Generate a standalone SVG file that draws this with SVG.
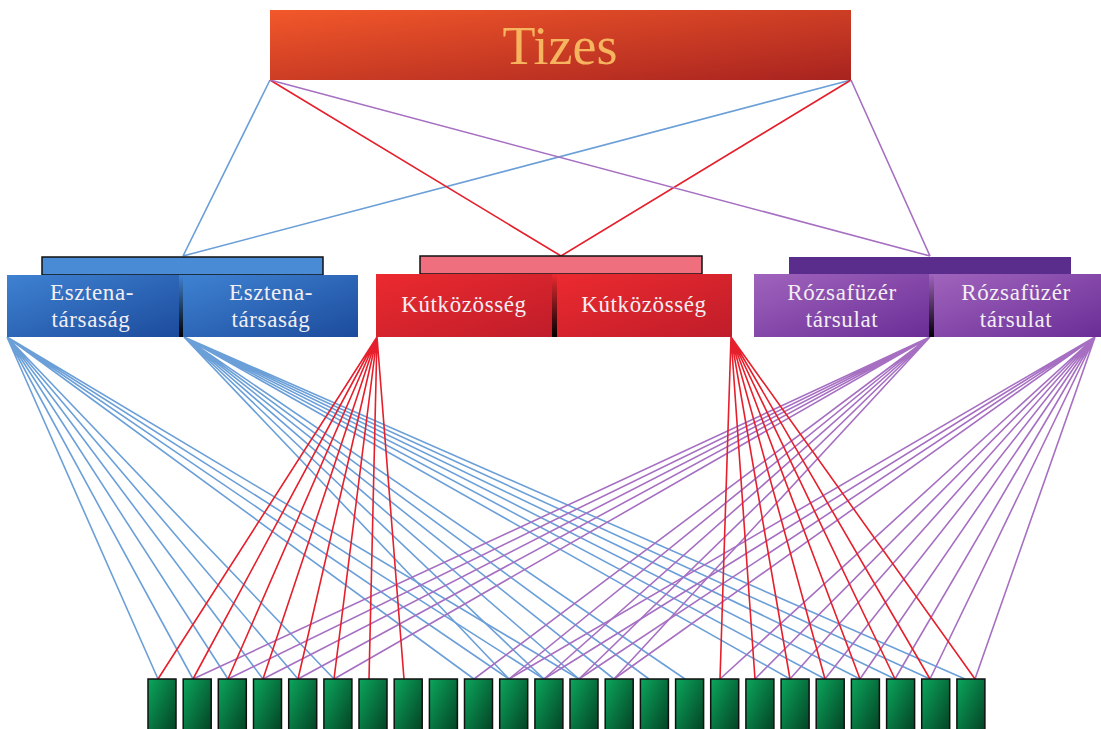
<svg xmlns="http://www.w3.org/2000/svg" width="1101" height="729" viewBox="0 0 1101 729">
<defs>
<linearGradient id="gTop" x1="0" y1="0" x2="1" y2="1"><stop offset="0" stop-color="#f2582a"/><stop offset="1" stop-color="#a8231f"/></linearGradient>
<linearGradient id="gBlue" x1="0" y1="0" x2="1" y2="1"><stop offset="0" stop-color="#3f82d2"/><stop offset="1" stop-color="#1c4b9c"/></linearGradient>
<linearGradient id="gRed" x1="0" y1="0" x2="1" y2="1"><stop offset="0" stop-color="#ec2a2f"/><stop offset="1" stop-color="#bf1d2a"/></linearGradient>
<linearGradient id="gPur" x1="0" y1="0" x2="1" y2="1"><stop offset="0" stop-color="#a064bd"/><stop offset="1" stop-color="#6a2d96"/></linearGradient>
<linearGradient id="gGreen" x1="0" y1="0" x2="1" y2="1"><stop offset="0" stop-color="#0ba65c"/><stop offset="1" stop-color="#033b20"/></linearGradient>
<linearGradient id="gDivB" x1="0" y1="0" x2="0" y2="1"><stop offset="0" stop-color="#3f82d2"/><stop offset="1" stop-color="#000"/></linearGradient>
<linearGradient id="gDivR" x1="0" y1="0" x2="0" y2="1"><stop offset="0" stop-color="#ec2a2f"/><stop offset="1" stop-color="#000"/></linearGradient>
<linearGradient id="gDivP" x1="0" y1="0" x2="0" y2="1"><stop offset="0" stop-color="#a064bd"/><stop offset="1" stop-color="#000"/></linearGradient>
</defs>
<style>
.b{stroke:#6b9fd8;stroke-width:1.6;fill:none}
.r{stroke:#e51f2b;stroke-width:1.6;fill:none}
.p{stroke:#a66fc2;stroke-width:1.6;fill:none}
.gt{font-family:"Liberation Serif",serif;font-size:23px;letter-spacing:0.6px;fill:#f2eef2;text-anchor:middle}
.gr{fill:url(#gGreen);stroke:#101010;stroke-width:1.5}
</style>
<rect width="1101" height="729" fill="#fff"/>
<g id="connectors">
<path class="b" d="M270,80L183,256M851,80L183,256"/>
<path class="r" d="M270,80L561,256M851,80L561,256"/>
<path class="p" d="M270,80L930,256M851,80L930,256"/>
<path class="b" d="M7,337L158,679M7,337L193,679M7,337L228,679M7,337L263,679M7,337L298,679M7,337L334,679M7,337L474,679M7,337L509,679M7,337L544,679M7,337L579,679"/>
<path class="b" d="M184,337L509,679M184,337L544,679M184,337L579,679M184,337L614,679M184,337L649,679M184,337L685,679M184,337L790,679M184,337L825,679M184,337L860,679M184,337L895,679M184,337L930,679M184,337L965,679"/>
<path class="p" d="M930,337L193,679M930,337L228,679M930,337L263,679M930,337L298,679M930,337L334,679M930,337L474,679M930,337L509,679M930,337L544,679M930,337L579,679M930,337L614,679"/>
<path class="p" d="M1095,337L509,679M1095,337L544,679M1095,337L579,679M1095,337L614,679M1095,337L720,679M1095,337L755,679M1095,337L790,679M1095,337L825,679M1095,337L860,679M1095,337L895,679M1095,337L930,679M1095,337L975,679"/>
<path class="r" d="M377,337L158,679M377,337L193,679M377,337L228,679M377,337L263,679M377,337L298,679M377,337L334,679M377,337L369,679M377,337L404,679"/>
<path class="r" d="M731,337L720,679M731,337L755,679M731,337L790,679M731,337L825,679M731,337L860,679M731,337L895,679M731,337L930,679M731,337L975,679"/>
</g>
<g id="tizes">
<rect x="270" y="10" width="581" height="70" fill="url(#gTop)"/>
<text x="560" y="64" font-family="Liberation Serif, serif" font-size="54" fill="#f7b45e" text-anchor="middle">Tizes</text>
</g>
<g id="blue-group">
<rect x="42" y="257" width="281" height="18" fill="#4a8bd6" stroke="#111" stroke-width="1.5"/>
<rect x="7" y="275" width="172" height="62" fill="url(#gBlue)"/>
<rect x="183" y="275" width="175" height="62" fill="url(#gBlue)"/>
<rect x="179" y="275" width="4" height="62" fill="url(#gDivB)"/>
</g>
<g id="esztena-1"><text class="gt"><tspan x="92" y="300">Esztena-</tspan><tspan x="91" y="327">társaság</tspan></text></g>
<g id="esztena-2"><text class="gt"><tspan x="271" y="300">Esztena-</tspan><tspan x="271" y="327">társaság</tspan></text></g>
<g id="red-group">
<rect x="420" y="256" width="282" height="18" fill="#ef6f7e" stroke="#111" stroke-width="1.5"/>
<rect x="376" y="274" width="176" height="63" fill="url(#gRed)"/>
<rect x="557" y="274" width="175" height="63" fill="url(#gRed)"/>
<rect x="552" y="274" width="5" height="63" fill="url(#gDivR)"/>
</g>
<g id="kut-1"><text class="gt" x="464" y="312">Kútközösség</text></g>
<g id="kut-2"><text class="gt" x="644" y="312">Kútközösség</text></g>
<g id="purple-group">
<rect x="789" y="257" width="282" height="17" fill="#5a2c8c"/>
<rect x="754" y="274" width="175" height="63" fill="url(#gPur)"/>
<rect x="934" y="274" width="167" height="63" fill="url(#gPur)"/>
<rect x="929" y="274" width="5" height="63" fill="url(#gDivP)"/>
</g>
<g id="rozsa-1"><text class="gt"><tspan x="842" y="300">Rózsafüzér</tspan><tspan x="842" y="327">társulat</tspan></text></g>
<g id="rozsa-2"><text class="gt"><tspan x="1016" y="300">Rózsafüzér</tspan><tspan x="1016" y="327">társulat</tspan></text></g>
<g id="members">
<rect class="gr" x="148" y="679" width="28" height="60"/>
<rect class="gr" x="183.2" y="679" width="28" height="60"/>
<rect class="gr" x="218.3" y="679" width="28" height="60"/>
<rect class="gr" x="253.5" y="679" width="28" height="60"/>
<rect class="gr" x="288.7" y="679" width="28" height="60"/>
<rect class="gr" x="323.9" y="679" width="28" height="60"/>
<rect class="gr" x="359" y="679" width="28" height="60"/>
<rect class="gr" x="394.2" y="679" width="28" height="60"/>
<rect class="gr" x="429.4" y="679" width="28" height="60"/>
<rect class="gr" x="464.5" y="679" width="28" height="60"/>
<rect class="gr" x="499.7" y="679" width="28" height="60"/>
<rect class="gr" x="534.9" y="679" width="28" height="60"/>
<rect class="gr" x="570" y="679" width="28" height="60"/>
<rect class="gr" x="605.2" y="679" width="28" height="60"/>
<rect class="gr" x="640.4" y="679" width="28" height="60"/>
<rect class="gr" x="675.6" y="679" width="28" height="60"/>
<rect class="gr" x="710.7" y="679" width="28" height="60"/>
<rect class="gr" x="745.9" y="679" width="28" height="60"/>
<rect class="gr" x="781.1" y="679" width="28" height="60"/>
<rect class="gr" x="816.2" y="679" width="28" height="60"/>
<rect class="gr" x="851.4" y="679" width="28" height="60"/>
<rect class="gr" x="886.6" y="679" width="28" height="60"/>
<rect class="gr" x="921.7" y="679" width="28" height="60"/>
<rect class="gr" x="956.9" y="679" width="28" height="60"/>
</g>
</svg>
